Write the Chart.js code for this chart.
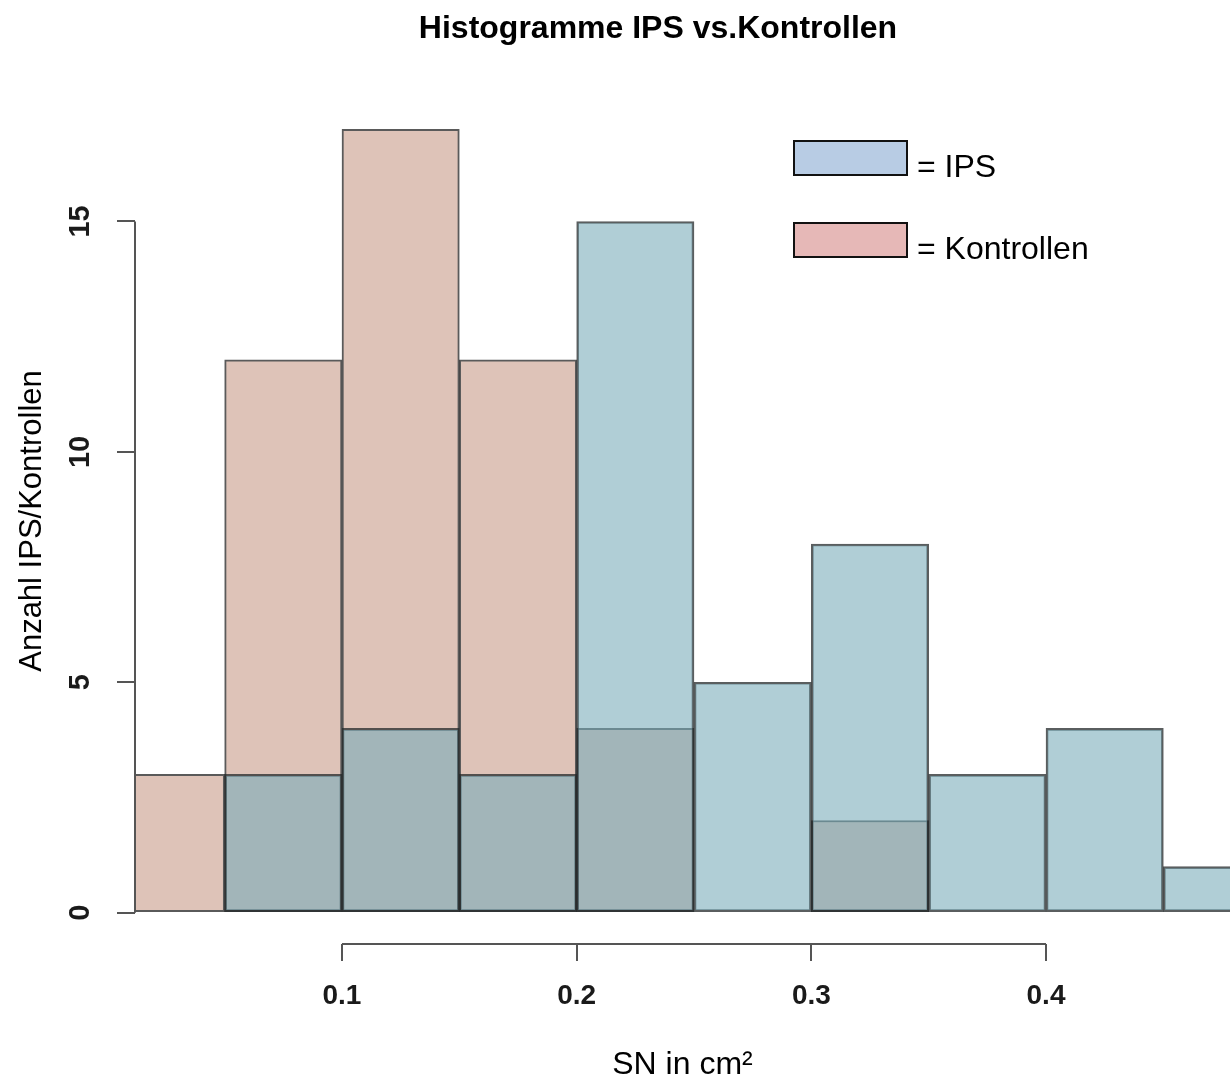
<!DOCTYPE html>
<html>
<head>
<meta charset="utf-8">
<script src="https://cdn.jsdelivr.net/npm/chart.js@4.4.1/dist/chart.umd.min.js"></script>
<style>
  body { margin: 0; background: #fff; }
  canvas { display: block; }
</style>
</head>
<body>
<canvas id="hist" width="1230" height="1084"></canvas>
<script>
// histogram bins (centre of each 0.05 wide bin)
var binCenters = [0.025, 0.075, 0.125, 0.175, 0.225, 0.275, 0.325, 0.375, 0.425, 0.475];
var ips        = [0, 3, 4, 3, 15, 5, 8, 3, 4, 1];
var kontrollen = [3, 12, 17, 12, 4, 0, 2, 0, 0, 0];

var xTicks = [0.1, 0.2, 0.3, 0.4];
var xTickLabels = ['0.1', '0.2', '0.3', '0.4'];
var yTicks = [0, 5, 10, 15];
var yTickLabels = ['0', '5', '10', '15'];

var titleText = 'Histogramme IPS vs.Kontrollen';
var legendNames = ['= IPS', '= Kontrollen'];
var legendColors = ['#B8CCE4', '#E6B8B7'];

var FONT = 'Arial, "Liberation Sans", sans-serif';
Chart.defaults.color = '#000';
Chart.defaults.font.family = FONT;

function toPoints(vals) {
  var out = [];
  for (var i = 0; i < vals.length; i++) {
    out.push({ x: binCenters[i], y: vals[i] });
  }
  return out;
}

// R style axis lines: only from first to last tick
var axisLines = {
  id: 'axisLines',
  afterDatasetsDraw: function(chart) {
    var ctx = chart.ctx;
    var xs = chart.scales.x, ys = chart.scales.y;
    var area = chart.chartArea;
    ctx.save();
    ctx.strokeStyle = '#555';
    ctx.lineWidth = 2;
    ctx.beginPath();
    ctx.moveTo(area.left, ys.getPixelForValue(yTicks[0]));
    ctx.lineTo(area.left, ys.getPixelForValue(yTicks[yTicks.length - 1]));
    ctx.moveTo(xs.getPixelForValue(xTicks[0]), area.bottom);
    ctx.lineTo(xs.getPixelForValue(xTicks[xTicks.length - 1]), area.bottom);
    ctx.stroke();
    ctx.restore();
  }
};

// title centred like R does (over the plot region, not the canvas)
var plotTitle = {
  id: 'plotTitle',
  afterDraw: function(chart) {
    var ctx = chart.ctx;
    ctx.save();
    ctx.font = 'bold 32px ' + FONT;
    ctx.fillStyle = '#000';
    ctx.textAlign = 'center';
    ctx.textBaseline = 'middle';
    ctx.fillText(titleText, 658, 29);
    ctx.restore();
  }
};

var boxLegend = {
  id: 'boxLegend',
  afterDraw: function(chart) {
    var ctx = chart.ctx;
    ctx.save();
    ctx.font = '32px ' + FONT;
    ctx.textBaseline = 'middle';
    ctx.textAlign = 'left';
    for (var i = 0; i < legendNames.length; i++) {
      var top = 141 + i * 82;
      ctx.fillStyle = legendColors[i];
      ctx.fillRect(794, top, 113, 34);
      ctx.strokeStyle = '#111';
      ctx.lineWidth = 2;
      ctx.strokeRect(794, top, 113, 34);
      ctx.fillStyle = '#000';
      ctx.fillText(legendNames[i], 917, top + 27);
    }
    ctx.restore();
  }
};

new Chart(document.getElementById('hist'), {
  type: 'bar',
  data: {
    datasets: [
      {
        label: 'IPS',
        data: toPoints(ips),
        backgroundColor: 'rgba(121,172,185,0.59)',
        borderColor: 'rgba(35,40,42,0.75)',
        borderWidth: 2,
        borderSkipped: false
      },
      {
        label: 'Kontrollen',
        data: toPoints(kontrollen),
        backgroundColor: 'rgb(222,195,184)',
        borderColor: 'rgba(35,35,35,0.75)',
        borderWidth: 2,
        borderSkipped: false
      }
    ]
  },
  options: {
    responsive: false,
    animation: false,
    devicePixelRatio: 1,
    layout: { padding: { top: 98, left: 0, right: 0, bottom: 0 } },
    datasets: {
      bar: { grouped: false, barPercentage: 1, categoryPercentage: 1 }
    },
    plugins: {
      legend: { display: false },
      tooltip: { enabled: false },
      title: { display: false }
    },
    scales: {
      x: {
        type: 'linear',
        min: 0.0118,
        max: 0.4784,
        offset: false,
        afterBuildTicks: function(scale) {
          scale.ticks = xTicks.map(function(v) { return { value: v }; });
        },
        afterFit: function(scale) { scale.height = 140; },
        grid: { offset: false, drawOnChartArea: false, drawTicks: true, tickLength: 17, color: '#555', lineWidth: 2 },
        border: { display: false },
        ticks: {
          padding: 18,
          maxRotation: 0,
          font: { size: 28, weight: 'bold' },
          color: '#1a1a1a',
          callback: function(value) {
            var i = xTicks.indexOf(value);
            return i >= 0 ? xTickLabels[i] : '';
          }
        },
        title: {
          display: true,
          text: 'SN in cm²',
          font: { size: 32 },
          color: '#000',
          padding: { top: 0, bottom: 0 }
        }
      },
      y: {
        min: -0.68,
        max: 17.68,
        afterBuildTicks: function(scale) {
          scale.ticks = yTicks.map(function(v) { return { value: v }; });
        },
        afterFit: function(scale) { scale.width = 135; },
        grid: { drawOnChartArea: false, drawTicks: true, tickLength: 18, color: '#555', lineWidth: 2 },
        border: { display: false },
        ticks: {
          minRotation: 90,
          maxRotation: 90,
          crossAlign: 'center',
          padding: 20,
          font: { size: 29, weight: 'bold' },
          color: '#1a1a1a',
          callback: function(value) {
            var i = yTicks.indexOf(value);
            return i >= 0 ? yTickLabels[i] : '';
          }
        },
        title: {
          display: true,
          text: 'Anzahl IPS/Kontrollen',
          font: { size: 31 },
          color: '#000',
          padding: { top: 14, bottom: 0 }
        }
      }
    }
  },
  plugins: [axisLines, plotTitle, boxLegend]
});
</script>
</body>
</html>
